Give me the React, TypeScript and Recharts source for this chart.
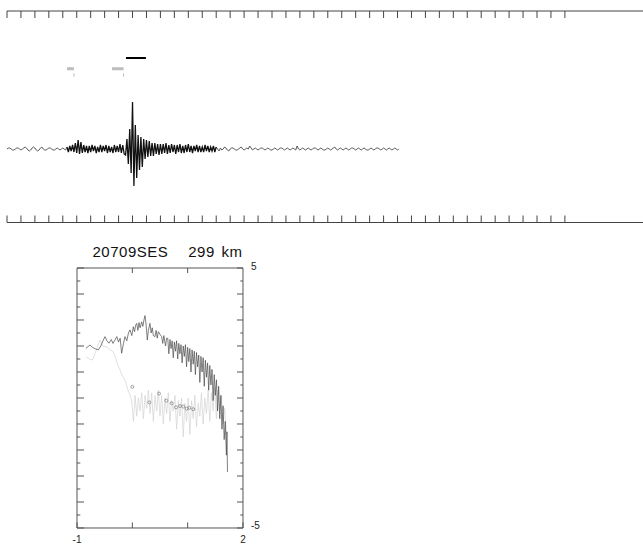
import React from 'react';
import { LineChart, Line, XAxis, YAxis } from 'recharts';

// ---- Seismogram (amplitude in px-like units, one sample per second) ----
const preEvent = [0, 1, 1, 0, -1, -1, 0, 1, 1, 0, -1, 0, 1, 2, 1, -1, -2, -1, 1, 2, 1, -1, -2, -1, 1, 2, 0, -1, -1, 0, 1, 1, 0, -1, -1, 0, 1, 0, -1, 0, 1, 0, -1];
const pWaveCoda = [2, -3, 3, -2, 4, -3, 6, -4, 9, -5, 7, -4, 4, -3, 3, -4, 3, -3, 4, -2, 3, -4, 2, -3, 4, -3, 3, -2, 4, -4, 3, -3, 2, -4, 4, -3, 3, -3, 5, -4, 4, -5];
const sWave = [-6, 10, -15, 20, -24, 47, -37, 24, -29, 14, -21, 12, -18, 10, -10, 9, -8, 8, -7, 6, -7, 6, -5, 5, -6, 5];
const sCoda = [-5, 5, -4, 6, -5, 4, -4, 5, -3, 4, -5, 4, -3, 5, -4, 3, -4, 4, -3, 5, -3, 3, -4, 3, -2, 4, -3, 3, -3, 2, -3, 4, -2, 3, -3, 2, -2, 3, -3,
  2, 0, -2, 1, -1, 0, 2, 1, -1, -2, 0, 1, 1, 0, -1, -1, 0, 1, 2, 0, -1];
const tail = [0, 1, 0, 3, 1, -1, 0, 1, 0, -1, 0, 1, 1, 0, -1, 0, 1, 0, -1, -1, 0, 1, 0, -1, 0, 1, 1, 0, -1, 0,
  1, 0, -1, 0, 1, 0, -1, 3, 0, -1, 0, 1, 0, -1, 0, 1, 0, -1, 0, 1, 1, 0, -1, 0, 1, 0, -1, -1, 0, 1,
  0, -1, 0, 1, 2, 0, -1, 0, 1, 0, -1, 0, 1, 0, -1, 0, 1, 1, 0, -1, 0, 1, 0, -1, 0, 1, 0, -1, -1, 0,
  1, 0, -1, 0, 1, 1, 0, -1, 0, 1, 0, -1, 0, 1, 0, -1, 0, 1, 0, -1, 0];
const trace = [...preEvent, ...pWaveCoda, ...sWave, ...sCoda, ...tail];
const traceData = trace.map((v, i) => ({ t: i, v }));
const denseStart = preEvent.length;
const denseEnd = preEvent.length + pWaveCoda.length + sWave.length + 39;
const quietBefore = traceData.slice(0, denseStart + 1);
const denseData = traceData.slice(denseStart, denseEnd + 1);
const quietAfter = traceData.slice(denseEnd);

const timeTicks = Array.from({ length: 41 }, (_, i) => i * 10);

// phase picks (seconds) and marker levels
const grayPickStarts = [43.0, 75.3];
const grayPickEnds = [48.0, 83.6];
const grayPickLevel = 80.3;
const pickTickTop = 75.7;
const pickTickBottom = 72.3;
const windowStart = 85.3;
const windowEnd = 99.6;
const windowLevel = 91;

// ---- Spectra (log10 frequency vs log10 amplitude) ----
const sigFreq = [-0.84, -0.80, -0.765, -0.72, -0.68, -0.615, -0.57, -0.53, -0.494, -0.46, -0.42, -0.38, -0.35, -0.313, -0.28, -0.25, -0.22, -0.193, -0.16, -0.133,
  -0.10, -0.07, -0.042, -0.01, 0.018, 0.04, 0.06, 0.079, 0.10, 0.12, 0.14, 0.169, 0.19, 0.21, 0.229, 0.25, 0.271, 0.29, 0.319, 0.34,
  0.36, 0.38, 0.41, 0.43, 0.45, 0.47, 0.50, 0.53, 0.55, 0.57, 0.60, 0.62,
  0.64, 0.66, 0.68, 0.70, 0.72, 0.74, 0.76, 0.78, 0.80, 0.82, 0.84, 0.86, 0.88, 0.90, 0.92, 0.94, 0.96, 0.98, 1.00, 1.02,
  1.04, 1.06, 1.08, 1.10, 1.12, 1.14, 1.16, 1.18, 1.20, 1.22, 1.24, 1.26, 1.28, 1.30, 1.32, 1.34, 1.36, 1.38, 1.40, 1.42,
  1.44, 1.46, 1.48, 1.50, 1.52, 1.54, 1.56, 1.58, 1.60, 1.62, 1.64, 1.66, 1.68, 1.70, 1.71, 1.72];
const sigAmp = [1.91, 1.98, 2.04, 1.95, 1.9, 1.85, 2.0, 2.2, 2.36, 2.2, 2.11, 2.25, 2.1, 2.23, 2.36, 2.15, 2.3, 1.72, 2.1, 2.36,
  2.2, 2.5, 2.62, 2.4, 2.74, 2.55, 2.8, 2.87, 2.6, 2.9, 2.7, 2.93, 2.75, 3.0, 3.17, 2.8, 2.23, 2.6, 2.87, 2.5,
  2.7, 2.4, 2.36, 2.6, 2.3, 2.55, 2.45, 2.36, 2.1, 2.4, 2.0, 2.3,
  2.3, 1.7, 2.25, 1.9, 2.2, 1.55, 2.15, 1.8, 2.2, 1.5, 2.1, 1.7, 2.05, 1.35, 2.0, 1.6, 2.05, 1.2, 1.95, 1.4,
  1.9, 1.0, 1.85, 1.3, 1.8, 0.9, 1.75, 1.2, 1.65, 0.6, 1.6, 1.0, 1.55, 0.45, 1.45, 0.8, 1.35, 0.3, 1.25, 0.5,
  1.1, -0.1, 0.9, 0.1, 0.7, -0.5, 0.45, -0.8, 0.1, -1.2, -0.3, -1.6, -0.9, -2.2, -1.3, -2.85];

const noiseFreq = [-0.84, -0.78, -0.72, -0.66, -0.584, -0.53, -0.47, -0.40, -0.343, -0.31, -0.27, -0.223, -0.18, -0.133, -0.08, -0.04, -0.012,
  0.02, 0.05, 0.08, 0.11, 0.14, 0.17, 0.20, 0.23, 0.26, 0.29, 0.32, 0.35, 0.38, 0.41, 0.44, 0.47, 0.50, 0.53, 0.56, 0.59,
  0.62, 0.65, 0.68, 0.71, 0.74, 0.77, 0.80, 0.83, 0.86, 0.89, 0.92, 0.95, 0.98, 1.01, 1.04, 1.07, 1.10, 1.13, 1.16, 1.19,
  1.22, 1.25, 1.28, 1.31, 1.34, 1.37, 1.40, 1.43, 1.46, 1.49, 1.52, 1.55, 1.58, 1.61, 1.64, 1.67, 1.70, 1.72];
const noiseAmp = [1.59, 1.5, 1.46, 1.8, 2.23, 2.0, 1.97, 1.85, 1.78, 1.59, 1.3, 1.08, 0.85, 0.69, 0.31, 0.1, -0.08,
  -0.9, 0.1, -0.7, 0.0, -0.5, 0.2, -0.8, 0.1, -0.4, 0.3, -0.6, 0.2, -0.9, 0.1, -0.5, 0.3, -0.7, 0.1, -1.0, 0.0,
  -0.6, 0.2, -0.9, -0.1, -0.5, 0.1, -1.2, -0.1, -0.7, 0.0, -1.5, -0.2, -0.9, 0.0, -1.4, -0.1, -0.8, 0.1, -1.1, -0.2,
  -0.7, 0.2, -1.0, 0.0, -0.6, 0.3, -0.9, 0.2, -0.5, 0.4, -0.8, 0.3, -0.6, 0.1, -1.0, -0.4, -1.4, -1.3];

const dotFreq = [0.0, 0.307, 0.482, 0.614, 0.711, 0.789, 0.861, 0.921, 0.983, 1.03, 1.10];
const dotAmp = [0.43, -0.17, 0.17, -0.1, -0.2, -0.36, -0.31, -0.33, -0.41, -0.38, -0.43];

const freqTicks = [-1, 0, 1, 2];
const freqInnerTicks = [0, 1];
const freqLabels = [-1, 2];
const ampIntTicks = [-5, -4, -3, -2, -1, 0, 1, 2, 3, 4, 5];
const ampHalfTicks = [-4.5, -3.5, -2.5, -1.5, -0.5, 0.5, 1.5, 2.5, 3.5, 4.5];
const ampLabels = [-5, 5];

const title = '20709SES   299 km';

const sigData = sigFreq.map((f, i) => ({ f, v: sigAmp[i] }));
const noiseData = noiseFreq.map((f, i) => ({ f, v: noiseAmp[i] }));
const dotData = dotFreq.map((f, i) => ({ f, v: dotAmp[i] }));

const FONT = '"Liberation Sans", Arial, Helvetica, sans-serif';
const AXIS = '#555';
const THIN = 0.01;

const NoLabel = () => <g />;

const RightLabel = (props: any) => {
  const { x, y, payload } = props;
  return (
    <text x={x} y={y - 2} dy="0.35em" textAnchor="start" fontSize={10} fill="#222" fontFamily={FONT}>
      {payload.value}
    </text>
  );
};

export default function App() {
  const seg = (a: number, b: number, lvl: number) => [{ t: a, v: lvl }, { t: b, v: lvl }];
  return (
    <div style={{ position: 'absolute', left: 0, top: 0, width: 643, height: 546, background: '#fff', overflow: 'hidden' }}>
      <div style={{ position: 'absolute', left: 0, top: 0 }}>
        <LineChart width={643} height={235} margin={{ top: 11, right: 0, bottom: 12.5, left: 7 }}>
          <XAxis dataKey="t" type="number" domain={[0, 456]} allowDataOverflow ticks={timeTicks} interval={0}
            orientation="bottom" mirror tickSize={7} tick={NoLabel} height={THIN} stroke="#444" />
          <XAxis xAxisId="top" dataKey="t" type="number" domain={[0, 456]} allowDataOverflow ticks={timeTicks} interval={0}
            orientation="top" mirror tickSize={7} tick={NoLabel} height={THIN} stroke="#444" />
          <YAxis hide type="number" domain={[-73.5, 138]} allowDataOverflow />
          <Line data={quietBefore} dataKey="v" stroke="#333" strokeWidth={0.8} dot={false} activeDot={false} isAnimationActive={false} />
          <Line data={quietAfter} dataKey="v" stroke="#333" strokeWidth={0.8} dot={false} activeDot={false} isAnimationActive={false} />
          <Line data={denseData} dataKey="v" stroke="#111" strokeWidth={1.3} dot={false} activeDot={false} isAnimationActive={false} />
          {grayPickStarts.map((s, i) => (
            <Line key={'gp' + i} data={seg(s, grayPickEnds[i], grayPickLevel)} dataKey="v" stroke="#bdbdbd" strokeWidth={3}
              dot={false} activeDot={false} isAnimationActive={false} />
          ))}
          {grayPickEnds.map((e, i) => (
            <Line key={'gt' + i} data={[{ t: e, v: pickTickTop }, { t: e, v: pickTickBottom }]} dataKey="v" stroke="#bdbdbd" strokeWidth={1}
              dot={false} activeDot={false} isAnimationActive={false} />
          ))}
          <Line data={seg(windowStart, windowEnd, windowLevel)} dataKey="v" stroke="#000" strokeWidth={2}
            dot={false} activeDot={false} isAnimationActive={false} />
        </LineChart>
      </div>

      <div style={{ position: 'absolute', left: 0, top: 244, width: 335, textAlign: 'center', fontFamily: FONT,
        fontSize: 15, lineHeight: '15px', letterSpacing: 0.5, wordSpacing: 2, whiteSpace: 'pre', color: '#111' }}>
        {title}
      </div>

      <div style={{ position: 'absolute', left: 0, top: 230 }}>
        <LineChart width={300} height={316} margin={{ top: 38, right: 57, bottom: 18, left: 77 }}>
          <XAxis dataKey="f" type="number" domain={[-1, 2]} allowDataOverflow ticks={freqTicks} interval={0}
            orientation="bottom" mirror tickSize={5.5} tick={NoLabel} height={THIN} stroke={AXIS} />
          <XAxis xAxisId="top" dataKey="f" type="number" domain={[-1, 2]} allowDataOverflow ticks={freqInnerTicks} interval={0}
            orientation="top" mirror tickSize={5} tick={NoLabel} height={THIN} stroke={AXIS} />
          <XAxis xAxisId="lbl" dataKey="f" type="number" domain={[-1, 2]} allowDataOverflow ticks={freqLabels} interval={0}
            orientation="bottom" tickLine={false} axisLine={false} tickSize={0} tickMargin={8} height={THIN}
            tick={{ fontSize: 10, fill: '#222', fontFamily: FONT }} />
          <YAxis type="number" domain={[-5, 5]} allowDataOverflow ticks={ampIntTicks} interval={0}
            orientation="left" mirror tickSize={7} tick={NoLabel} width={THIN} stroke={AXIS} />
          <YAxis yAxisId="lh" type="number" domain={[-5, 5]} allowDataOverflow ticks={ampHalfTicks} interval={0}
            orientation="left" mirror tickSize={3.3} tick={NoLabel} axisLine={false} width={THIN} stroke={AXIS} />
          <YAxis yAxisId="r" type="number" domain={[-5, 5]} allowDataOverflow ticks={ampIntTicks} interval={0}
            orientation="right" mirror tickSize={6} tick={NoLabel} width={THIN} stroke={AXIS} />
          <YAxis yAxisId="rh" type="number" domain={[-5, 5]} allowDataOverflow ticks={ampHalfTicks} interval={0}
            orientation="right" mirror tickSize={2.7} tick={NoLabel} axisLine={false} width={THIN} stroke={AXIS} />
          <YAxis yAxisId="rl" type="number" domain={[-5, 5]} allowDataOverflow ticks={ampLabels} interval={0}
            orientation="right" tickLine={false} axisLine={false} tickSize={0} tickMargin={8} width={THIN} tick={RightLabel} />
          <Line data={noiseData} dataKey="v" stroke="#d2d2d2" strokeWidth={0.7} dot={false} activeDot={false} isAnimationActive={false} />
          <Line data={sigData} dataKey="v" stroke="#4a4a4a" strokeWidth={0.7} dot={false} activeDot={false} isAnimationActive={false} />
          <Line data={dotData} dataKey="v" stroke="none" dot={{ r: 1.5, stroke: '#888', strokeWidth: 0.8, fill: 'none' }}
            activeDot={false} isAnimationActive={false} />
        </LineChart>
      </div>
    </div>
  );
}
